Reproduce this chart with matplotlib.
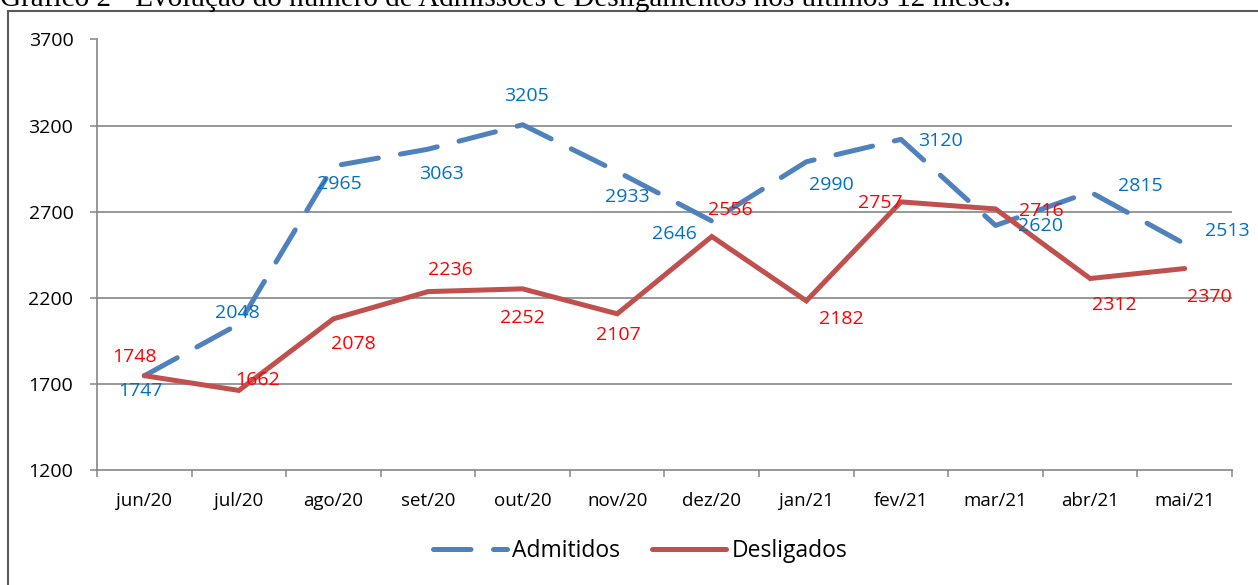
import matplotlib
matplotlib.use("Agg")
import matplotlib.pyplot as plt
from matplotlib.lines import Line2D

months = ["jun/20", "jul/20", "ago/20", "set/20", "out/20", "nov/20",
          "dez/20", "jan/21", "fev/21", "mar/21", "abr/21", "mai/21"]
admitidos = [1747, 2048, 2965, 3063, 3205, 2933, 2646, 2990, 3120, 2620, 2815, 2513]
desligados = [1748, 1662, 2078, 2236, 2252, 2107, 2556, 2182, 2757, 2716, 2312, 2370]
yticks = [1200, 1700, 2200, 2700, 3200, 3700]
title = "Gráfico 2 - Evolução do número de Admissões e Desligamentos nos últimos 12 meses."

# label offsets in pixels (dx right, dy down)
adm_off = [(-4, 15), (-2, -11), (6, 18), (13, 25), (4, -29), (10, 25),
           (-37, 13), (25, 23), (39, 2), (45, 1), (50, -6), (43, -13)]
des_off = [(-10, -19), (19, -10), (20, 25), (22, -22), (0, 29), (1, 21),
           (19, -26), (35, 18), (-21, 1), (46, 2), (24, 26), (25, 28)]

FONT = "Open Sans"
plt.rcParams['font.family'] = [FONT, 'DejaVu Sans']

W, H = 1258, 585
fig = plt.figure(figsize=(W / 100, H / 100), dpi=100)
ax = fig.add_axes([97 / W, 1 - 470 / H, (1232 - 97) / W, (470 - 39.5) / H])

blue = "#4F81BD"
red = "#C0504D"
grid = "#868686"
x = list(range(len(months)))

ax.plot(x, admitidos, color=blue, lw=3.6, dashes=(7.5, 4.5),
        solid_capstyle='round', dash_capstyle='round', label="Admitidos", zorder=3)
ax.plot(x, desligados, color=red, lw=3.6, solid_capstyle='round',
        solid_joinstyle='miter', label="Desligados", zorder=3)

k = 0.72
for xi, v, (dx, dy) in zip(x, admitidos, adm_off):
    ax.annotate(str(v), (xi, v), xytext=(dx * k, -dy * k), textcoords='offset points',
                ha='center', va='center', color="#0070C0", fontsize=14, zorder=4)
for xi, v, (dx, dy) in zip(x, desligados, des_off):
    ax.annotate(str(v), (xi, v), xytext=(dx * k, -dy * k), textcoords='offset points',
                ha='center', va='center', color="#FF0000", fontsize=14, zorder=4)

ax.set_xlim(-0.5, len(months) - 0.5)
ax.set_ylim(1200, 3700)
ax.set_yticks(yticks)
ax.set_yticklabels([str(t) for t in yticks], fontsize=14)
ax.set_xticks(x)
ax.set_xticklabels(months, fontsize=13.5)
ax.set_xticks([i - 0.5 for i in range(len(months) + 1)], minor=True)
ax.tick_params(axis='x', which='major', length=0, pad=16)
ax.tick_params(axis='x', which='minor', length=5, width=1.1, color=grid)
ax.tick_params(axis='y', length=5, width=1.1, color=grid, pad=12)

for yt in yticks[1:]:
    ax.axhline(yt, color=grid, lw=1.2, zorder=1)
for s in ['top', 'right']:
    ax.spines[s].set_visible(False)
for s in ['left', 'bottom']:
    ax.spines[s].set_color(grid)
    ax.spines[s].set_linewidth(1.2)

leg = fig.legend(loc='center', bbox_to_anchor=(0.509, 1 - 551 / H), ncol=2,
                 frameon=False, fontsize=16.5, handlelength=3.2, handletextpad=0.25,
                 columnspacing=1.4)

# outer frame
fig.add_artist(Line2D([8 / W, 8 / W], [-0.1, 1 - 11 / H], transform=fig.transFigure,
                      color="#5a5a5a", lw=1.5))
fig.add_artist(Line2D([8 / W, 1.1], [1 - 11 / H, 1 - 11 / H], transform=fig.transFigure,
                      color="#5a5a5a", lw=1.5))

fig.text(0.0, 1 - 6 / H, title, family=["Liberation Serif", "DejaVu Serif"],
         fontsize=21, va='baseline', ha='left')

fig.savefig("out.png", dpi=100)
